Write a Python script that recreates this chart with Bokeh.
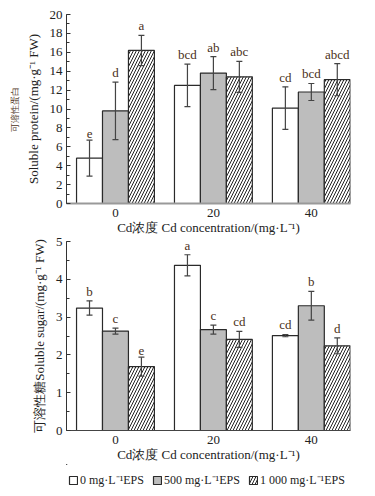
from bokeh.plotting import figure
from bokeh.models import (Range1d, FixedTicker, SingleIntervalTicker, Whisker, TeeHead,
                          ColumnDataSource, Legend, LegendItem, LinearAxis)
from bokeh.layouts import column
from bokeh.embed import file_html
from bokeh.resources import INLINE
from bokeh.core.properties import value

# ---------------- data ----------------
cd_levels = ["0", "20", "40"]
eps_labels = ["0 mg·L⁻¹EPS", "500 mg·L⁻¹EPS", "1 000 mg·L⁻¹EPS"]

protein_eps0 = [4.8, 12.5, 10.1]
protein_eps0_err = [1.9, 2.25, 2.25]
protein_eps500 = [9.8, 13.8, 11.8]
protein_eps500_err = [3.05, 1.75, 0.9]
protein_eps1000 = [16.2, 13.4, 13.1]
protein_eps1000_err = [1.6, 1.65, 1.7]
protein_letters_eps0 = ["e", "bcd", "cd"]
protein_letters_eps500 = ["d", "ab", "bcd"]
protein_letters_eps1000 = ["a", "abc", "abcd"]

sugar_eps0 = [3.24, 4.37, 2.51]
sugar_eps0_err = [0.19, 0.28, 0.03]
sugar_eps500 = [2.63, 2.67, 3.30]
sugar_eps500_err = [0.08, 0.12, 0.38]
sugar_eps1000 = [1.69, 2.41, 2.24]
sugar_eps1000_err = [0.25, 0.21, 0.21]
sugar_letters_eps0 = ["b", "a", "cd"]
sugar_letters_eps500 = ["c", "c", "b"]
sugar_letters_eps1000 = ["e", "cd", "d"]

# ---------------- style ----------------
SERIF = "Liberation Serif"
BAR_W = 0.265
FILLS = ["white", "#bdbdbd", "white"]
HATCH = [None, None, "/"]
LETTER_COLOR = "#4a3020"
TEXT_COLOR = "#222222"


def bar_style(k):
    kw = dict(fill_color=FILLS[k], line_color="#2a2a2a", line_width=1.2)
    if HATCH[k]:
        kw.update(hatch_pattern=HATCH[k], hatch_color="#222222", hatch_scale=6,
                  hatch_weight=1)
    return kw


def make_panel(means, errs, letters, ymax, tick_int, b_top, b_bottom,
               ylabel, ylabel2=None, xaxis_color="#444444", xaxis_width=1):
    p = figure(frame_width=284, frame_height=189, output_backend="svg",
               toolbar_location=None,
               x_range=Range1d(-0.5, 2.4), y_range=Range1d(0, ymax),
               min_border_left=66, min_border_right=20,
               min_border_top=b_top, min_border_bottom=b_bottom)
    p.outline_line_color = None
    p.grid.visible = False
    p.background_fill_color = "white"
    p.border_fill_color = "white"

    sources = []
    for k in range(3):
        xs = [i + (k - 1) * BAR_W for i in range(len(cd_levels))]
        src = ColumnDataSource(dict(
            x=xs, top=means[k],
            upper=[m + e for m, e in zip(means[k], errs[k])],
            lower=[m - e for m, e in zip(means[k], errs[k])],
            letter=letters[k]))
        sources.append(src)
        p.vbar(x="x", top="top", bottom=0, width=BAR_W, source=src, **bar_style(k))
        w = Whisker(source=src, base="x", upper="upper", lower="lower",
                    line_color="#444444", line_width=1.2, level="overlay",
                    upper_head=TeeHead(size=6, line_color="#444444", line_width=1.2),
                    lower_head=TeeHead(size=6, line_color="#444444", line_width=1.2))
        p.add_layout(w)
        p.text(x="x", y="upper", text="letter", source=src,
               text_font=value(SERIF), text_font_size="13px", text_align="center",
               text_baseline="bottom", y_offset=-2, text_color=LETTER_COLOR)

    # y axis
    ya = p.yaxis[0]
    ya.ticker = SingleIntervalTicker(interval=tick_int, num_minor_ticks=2)
    ya.major_tick_in = 4
    ya.major_tick_out = 0
    ya.minor_tick_in = 3
    ya.minor_tick_out = 0
    ya.axis_line_color = "#333333"
    ya.major_tick_line_color = "#333333"
    ya.minor_tick_line_color = "#333333"
    ya.major_label_standoff = 4
    ya.major_label_text_font = SERIF
    ya.major_label_text_font_size = "13px"
    ya.major_label_text_color = TEXT_COLOR
    ya.axis_label = ylabel
    ya.axis_label_text_font = SERIF
    ya.axis_label_text_font_size = "13px"
    ya.axis_label_text_font_style = "normal"
    ya.axis_label_text_color = TEXT_COLOR
    ya.axis_label_standoff = 6

    if ylabel2:
        ya2 = LinearAxis(ticker=FixedTicker(ticks=[]), axis_label=ylabel2,
                         axis_line_color=None, major_tick_line_color=None,
                         minor_tick_line_color=None,
                         axis_label_text_font=SERIF, axis_label_text_font_size="9px",
                         axis_label_text_font_style="normal",
                         axis_label_text_color="#4a3020", axis_label_standoff=3,
                         major_label_standoff=0)
        p.add_layout(ya2, "left")

    # x axis
    xa = p.xaxis[0]
    xa.ticker = FixedTicker(ticks=list(range(len(cd_levels))))
    xa.major_label_overrides = {i: lab for i, lab in enumerate(cd_levels)}
    xa.major_tick_line_color = None
    xa.minor_tick_line_color = None
    xa.major_tick_in = 0
    xa.major_tick_out = 0
    xa.axis_line_color = xaxis_color
    xa.axis_line_width = xaxis_width
    xa.major_label_standoff = 5
    xa.major_label_text_font = SERIF
    xa.major_label_text_font_size = "13px"
    xa.major_label_text_color = TEXT_COLOR
    xa.axis_label = "Cd浓度 Cd concentration/(mg·L⁻¹)"
    xa.axis_label_text_font = SERIF
    xa.axis_label_text_font_size = "13px"
    xa.axis_label_text_font_style = "normal"
    xa.axis_label_text_color = TEXT_COLOR
    xa.axis_label_standoff = 0
    return p, sources


top, _ = make_panel(
    [protein_eps0, protein_eps500, protein_eps1000],
    [protein_eps0_err, protein_eps500_err, protein_eps1000_err],
    [protein_letters_eps0, protein_letters_eps500, protein_letters_eps1000],
    20, 2, 14, 10,
    "Soluble protein/(mg·g⁻¹ FW)", ylabel2="可溶性蛋白",
    xaxis_color="#999999", xaxis_width=2)

bottom, sugar_sources = make_panel(
    [sugar_eps0, sugar_eps500, sugar_eps1000],
    [sugar_eps0_err, sugar_eps500_err, sugar_eps1000_err],
    [sugar_letters_eps0, sugar_letters_eps500, sugar_letters_eps1000],
    5, 1, 4, 10,
    "可溶性糖Soluble sugar/(mg·g⁻¹ FW)")

# legend strip: the same series renderers, viewed through ranges that keep the bars out of view
key = figure(width=370, height=24, output_backend="svg", toolbar_location=None,
             x_range=Range1d(100, 101), y_range=Range1d(-300, -200),
             x_axis_location=None, y_axis_location=None,
             min_border=0, min_border_left=0, min_border_right=0,
             min_border_top=0, min_border_bottom=0)
key.outline_line_color = None
key.grid.visible = False
key_renderers = [key.vbar(x="x", top="top", bottom=0, width=BAR_W,
                          source=sugar_sources[k], **bar_style(k)) for k in range(3)]
legend = Legend(items=[LegendItem(label=eps_labels[k], renderers=[key_renderers[k]])
                       for k in range(3)],
                location=(2, 0), orientation="horizontal",
                border_line_color=None, background_fill_alpha=0,
                padding=0, margin=0, spacing=8, glyph_width=10, glyph_height=10,
                label_standoff=2, label_height=12,
                label_text_font=SERIF, label_text_font_size="12px",
                label_text_color=TEXT_COLOR)
key.add_layout(legend)

layout = column(top, bottom, key, spacing=0)
open("out.html", "w").write(file_html(layout, INLINE))
